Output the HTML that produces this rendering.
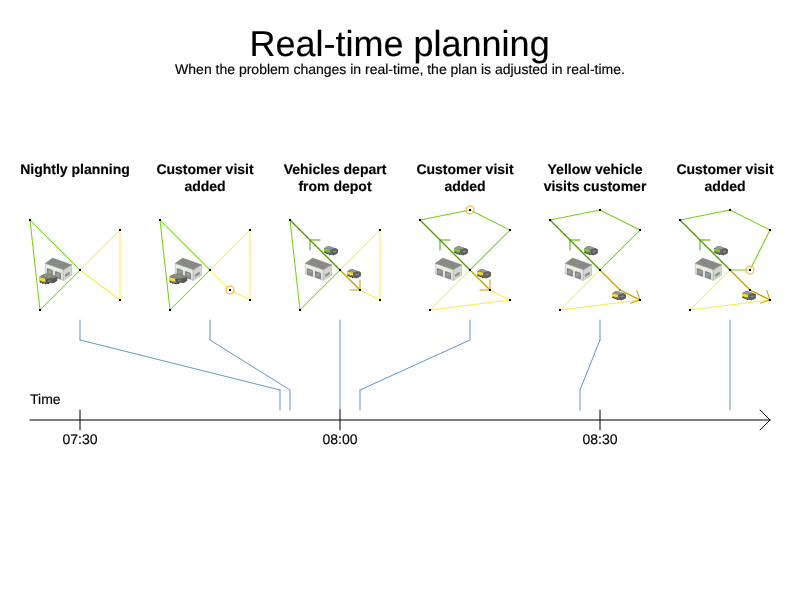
<!DOCTYPE html>
<html lang="en"><head><meta charset="utf-8"><title>Real-time planning</title>
<style>
html,body{margin:0;padding:0;background:#fff;}
body{width:800px;height:600px;overflow:hidden;}
svg{display:block;}
text{font-family:"Liberation Sans",Arial,Helvetica,sans-serif;fill:#000;text-rendering:geometricPrecision;stroke:#000;stroke-width:0.15px;stroke-linejoin:round;}
.t{font-size:36px;text-anchor:middle;}
.s{font-size:14px;text-anchor:middle;}
.h{font-size:14px;font-weight:bold;text-anchor:middle;}
.a{font-size:14px;}
.am{font-size:14px;text-anchor:middle;}
line{fill:none;stroke-linecap:round;}
</style></head><body>
<svg width="800" height="600" viewBox="0 0 800 600">
<defs>
<linearGradient id="gw" x1="0" y1="0" x2="0" y2="1"><stop offset="0" stop-color="#f1f2ef"/><stop offset="1" stop-color="#dcdfd9"/></linearGradient>
<linearGradient id="gd" x1="0" y1="0" x2="0.3" y2="1"><stop offset="0" stop-color="#7c7e7a"/><stop offset="0.45" stop-color="#a0a29d"/><stop offset="1" stop-color="#868884"/></linearGradient>
</defs>
<rect width="800" height="600" fill="#fff"/>
<text class="t" x="399.6" y="56">Real-time planning</text>
<text class="s" x="400" y="74">When the problem changes in real-time, the plan is adjusted in real-time.</text>

<text class="h" x="75" y="174">Nightly planning</text>
<text class="h" x="205" y="174">Customer visit</text>
<text class="h" x="205" y="191">added</text>
<text class="h" x="335" y="174">Vehicles depart</text>
<text class="h" x="335" y="191">from depot</text>
<text class="h" x="465" y="174">Customer visit</text>
<text class="h" x="465" y="191">added</text>
<text class="h" x="595" y="174">Yellow vehicle</text>
<text class="h" x="595" y="191">visits customer</text>
<text class="h" x="725" y="174">Customer visit</text>
<text class="h" x="725" y="191">added</text>
<g>
<line x1="80" y1="270" x2="30" y2="220" stroke="#73d216" stroke-width="1.05" />
<line x1="30" y1="220" x2="40" y2="310" stroke="#73d216" stroke-width="1.05" />
<line x1="40" y1="310" x2="80" y2="270" stroke="#73d216" stroke-width="1.05" />
<line x1="80" y1="270" x2="120" y2="230" stroke="#fce94f" stroke-width="1.05" />
<line x1="120" y1="230" x2="120" y2="300" stroke="#fce94f" stroke-width="1" />
<line x1="120" y1="300" x2="80" y2="270" stroke="#fce94f" stroke-width="1.05" />
<g transform="translate(0,0)">
<polygon points="45.3,263.3 63.3,269.6 63.3,280.4 45.3,273.9" fill="url(#gw)" stroke="#a4a7a0" stroke-width="0.5"/>
<polygon points="63.3,269.6 71.6,264.8 71.6,275.2 63.3,280.4" fill="#d4d7d0" stroke="#a4a7a0" stroke-width="0.5"/>
<polygon points="45.3,263.3 52.6,258.1 71.6,264.8 63.3,269.6" fill="#888a85" stroke="#888a85" stroke-width="0.5"/>
<polygon points="47.3,268.6 52.4,270.4 52.4,276 47.3,274.2" fill="url(#gd)" stroke="#686a66" stroke-width="0.7"/>
<polygon points="55.5,271.5 60.5,273.3 60.5,278.8 55.5,277" fill="url(#gd)" stroke="#686a66" stroke-width="0.7"/>
<polygon points="65.3,274.6 69.5,272.1 69.5,274.3 65.3,276.8" fill="#8e908b" stroke="#7b7d79" stroke-width="0.4"/>
</g>
<g transform="translate(0,0)">
<polygon points="39.4,276.6 43.6,274.2 47.6,273.6 53,275 57.2,277 57.2,280.8 53.4,283 50,282.6 46.6,284.2 42.6,283.6 39.4,281.8" fill="#6f716d"/>
<polygon points="39.4,276.6 43.6,274.2 47.6,273.6 53,275 57,277 51,278.6 45.6,278.8" fill="#858783"/>
<polygon points="46,279 51.4,278.4 57.2,277.4 57.2,280.8 53.4,283 50,282.6 46.6,284.2 46,283.6" fill="#575955"/>
<polygon points="48,280 51.6,279.4 51.6,281 48,281.8" fill="#787a76"/>
<polygon points="39.2,277 45,278.7 45.4,282.2 43.4,281.2 42.2,281.8 41,280.8 39.2,280.4" fill="#f2de3a"/>
<circle cx="45.8" cy="275.3" r="0.8" fill="#73d216"/><circle cx="49.3" cy="276.4" r="0.8" fill="#73d216"/>
<circle cx="40.6" cy="282" r="0.7" fill="#2e3436"/><circle cx="42.6" cy="282.9" r="0.7" fill="#2e3436"/><circle cx="45.4" cy="283.6" r="0.7" fill="#2e3436"/><circle cx="48.6" cy="283.4" r="0.7" fill="#2e3436"/>
</g>
<rect x="29" y="219" width="2" height="2" fill="#000"/>
<rect x="119" y="229" width="2" height="2" fill="#000"/>
<rect x="79" y="269" width="2" height="2" fill="#000"/>
<rect x="119" y="299" width="2" height="2" fill="#000"/>
<rect x="39" y="309" width="2" height="2" fill="#000"/>
</g>
<g>
<line x1="210" y1="270" x2="160" y2="220" stroke="#73d216" stroke-width="1.05" />
<line x1="160" y1="220" x2="170" y2="310" stroke="#73d216" stroke-width="1.05" />
<line x1="170" y1="310" x2="210" y2="270" stroke="#73d216" stroke-width="1.05" />
<line x1="210" y1="270" x2="250" y2="230" stroke="#fce94f" stroke-width="1.05" />
<line x1="250" y1="230" x2="250" y2="300" stroke="#fce94f" stroke-width="1" />
<line x1="250" y1="300" x2="230" y2="290" stroke="#fce94f" stroke-width="1.05" />
<line x1="230" y1="290" x2="210" y2="270" stroke="#fce94f" stroke-width="1.05" />
<g transform="translate(130,0)">
<polygon points="45.3,263.3 63.3,269.6 63.3,280.4 45.3,273.9" fill="url(#gw)" stroke="#a4a7a0" stroke-width="0.5"/>
<polygon points="63.3,269.6 71.6,264.8 71.6,275.2 63.3,280.4" fill="#d4d7d0" stroke="#a4a7a0" stroke-width="0.5"/>
<polygon points="45.3,263.3 52.6,258.1 71.6,264.8 63.3,269.6" fill="#888a85" stroke="#888a85" stroke-width="0.5"/>
<polygon points="47.3,268.6 52.4,270.4 52.4,276 47.3,274.2" fill="url(#gd)" stroke="#686a66" stroke-width="0.7"/>
<polygon points="55.5,271.5 60.5,273.3 60.5,278.8 55.5,277" fill="url(#gd)" stroke="#686a66" stroke-width="0.7"/>
<polygon points="65.3,274.6 69.5,272.1 69.5,274.3 65.3,276.8" fill="#8e908b" stroke="#7b7d79" stroke-width="0.4"/>
</g>
<g transform="translate(130,0)">
<polygon points="39.4,276.6 43.6,274.2 47.6,273.6 53,275 57.2,277 57.2,280.8 53.4,283 50,282.6 46.6,284.2 42.6,283.6 39.4,281.8" fill="#6f716d"/>
<polygon points="39.4,276.6 43.6,274.2 47.6,273.6 53,275 57,277 51,278.6 45.6,278.8" fill="#858783"/>
<polygon points="46,279 51.4,278.4 57.2,277.4 57.2,280.8 53.4,283 50,282.6 46.6,284.2 46,283.6" fill="#575955"/>
<polygon points="48,280 51.6,279.4 51.6,281 48,281.8" fill="#787a76"/>
<polygon points="39.2,277 45,278.7 45.4,282.2 43.4,281.2 42.2,281.8 41,280.8 39.2,280.4" fill="#f2de3a"/>
<circle cx="45.8" cy="275.3" r="0.8" fill="#73d216"/><circle cx="49.3" cy="276.4" r="0.8" fill="#73d216"/>
<circle cx="40.6" cy="282" r="0.7" fill="#2e3436"/><circle cx="42.6" cy="282.9" r="0.7" fill="#2e3436"/><circle cx="45.4" cy="283.6" r="0.7" fill="#2e3436"/><circle cx="48.6" cy="283.4" r="0.7" fill="#2e3436"/>
</g>
<rect x="159" y="219" width="2" height="2" fill="#000"/>
<rect x="249" y="229" width="2" height="2" fill="#000"/>
<rect x="209" y="269" width="2" height="2" fill="#000"/>
<rect x="249" y="299" width="2" height="2" fill="#000"/>
<rect x="169" y="309" width="2" height="2" fill="#000"/>
<rect x="229" y="289" width="2" height="2" fill="#000"/>
<circle cx="230" cy="290" r="4" stroke="#fcaf3e" stroke-width="1.2" fill="#fff" fill-opacity="0.4"/><rect x="229" y="289" width="2" height="2" fill="#000"/>
</g>
<g>
<line x1="340" y1="270" x2="290" y2="220" stroke="#73d216" stroke-width="1.05" />
<line x1="290" y1="220" x2="300" y2="310" stroke="#73d216" stroke-width="1.05" />
<line x1="300" y1="310" x2="340" y2="270" stroke="#73d216" stroke-width="1.05" />
<line x1="340" y1="270" x2="380" y2="230" stroke="#fce94f" stroke-width="1.05" />
<line x1="380" y1="230" x2="380" y2="300" stroke="#fce94f" stroke-width="1" />
<line x1="380" y1="300" x2="360" y2="290" stroke="#fce94f" stroke-width="1.05" />
<line x1="360" y1="290" x2="340" y2="270" stroke="#fce94f" stroke-width="1.05" />
<line x1="340" y1="270" x2="290" y2="220" stroke="#4e9a06" stroke-width="1.18" />
<line x1="340" y1="270" x2="360" y2="290" stroke="#c4a000" stroke-width="1.18" />
<line x1="320" y1="240" x2="310" y2="240" stroke="#4e9a06" stroke-width="1" />
<line x1="310" y1="240" x2="310" y2="250" stroke="#4e9a06" stroke-width="1" />
<line x1="350" y1="290" x2="360" y2="290" stroke="#c4a000" stroke-width="1" />
<line x1="360" y1="290" x2="360" y2="280" stroke="#c4a000" stroke-width="1" />
<g transform="translate(260,0)">
<polygon points="45.3,263.3 63.3,269.6 63.3,280.4 45.3,273.9" fill="url(#gw)" stroke="#a4a7a0" stroke-width="0.5"/>
<polygon points="63.3,269.6 71.6,264.8 71.6,275.2 63.3,280.4" fill="#d4d7d0" stroke="#a4a7a0" stroke-width="0.5"/>
<polygon points="45.3,263.3 52.6,258.1 71.6,264.8 63.3,269.6" fill="#888a85" stroke="#888a85" stroke-width="0.5"/>
<polygon points="47.3,268.6 52.4,270.4 52.4,276 47.3,274.2" fill="url(#gd)" stroke="#686a66" stroke-width="0.7"/>
<polygon points="55.5,271.5 60.5,273.3 60.5,278.8 55.5,277" fill="url(#gd)" stroke="#686a66" stroke-width="0.7"/>
<polygon points="65.3,274.6 69.5,272.1 69.5,274.3 65.3,276.8" fill="#8e908b" stroke="#7b7d79" stroke-width="0.4"/>
</g>
<g transform="translate(324,246)">
<polygon points="0.2,2.2 3,0.6 5.4,0.1 9,1.4 12,2.2 13.8,3.4 13.8,7 11.5,8.6 8,9 5,8.6 2,7.6 0.2,6.4" fill="#60625e" fill-opacity="0.92"/>
<polygon points="0.2,2.2 3,0.6 5.4,0.1 9,1.4 11,2.2 7.4,3.5" fill="#949691"/>
<polygon points="0.1,2.4 5.9,3.6 5.9,6.6 4.6,6 3.4,6.5 2.2,5.6 0.1,5.2" fill="#73d216"/>
<polygon points="7.4,3.5 11,2.3 13.8,3.4 13.8,7 11.5,8.6 8,8.8 7,8" fill="#5e605c"/>
<polygon points="8.6,4.8 12,4.4 12,6 8.6,6.6" fill="#858782"/>
<circle cx="1.2" cy="6.6" r="0.7" fill="#2e3436"/><circle cx="3.2" cy="7.6" r="0.7" fill="#2e3436"/><circle cx="5.6" cy="8.4" r="0.7" fill="#2e3436"/><circle cx="9.2" cy="8.8" r="0.6" fill="#2e3436"/>
</g>
<g transform="translate(347,269)">
<polygon points="0.2,2.2 3,0.6 5.4,0.1 9,1.4 12,2.2 13.8,3.4 13.8,7 11.5,8.6 8,9 5,8.6 2,7.6 0.2,6.4" fill="#60625e" fill-opacity="0.92"/>
<polygon points="0.2,2.2 3,0.6 5.4,0.1 9,1.4 11,2.2 7.4,3.5" fill="#949691"/>
<polygon points="0.1,2.4 5.9,3.6 5.9,6.6 4.6,6 3.4,6.5 2.2,5.6 0.1,5.2" fill="#f2de3a"/>
<polygon points="7.4,3.5 11,2.3 13.8,3.4 13.8,7 11.5,8.6 8,8.8 7,8" fill="#5e605c"/>
<polygon points="8.6,4.8 12,4.4 12,6 8.6,6.6" fill="#858782"/>
<circle cx="1.2" cy="6.6" r="0.7" fill="#2e3436"/><circle cx="3.2" cy="7.6" r="0.7" fill="#2e3436"/><circle cx="5.6" cy="8.4" r="0.7" fill="#2e3436"/><circle cx="9.2" cy="8.8" r="0.6" fill="#2e3436"/>
</g>
<rect x="289" y="219" width="2" height="2" fill="#000"/>
<rect x="379" y="229" width="2" height="2" fill="#000"/>
<rect x="339" y="269" width="2" height="2" fill="#000"/>
<rect x="379" y="299" width="2" height="2" fill="#000"/>
<rect x="299" y="309" width="2" height="2" fill="#000"/>
<rect x="359" y="289" width="2" height="2" fill="#000"/>
</g>
<g>
<line x1="470" y1="270" x2="420" y2="220" stroke="#73d216" stroke-width="1.05" />
<line x1="420" y1="220" x2="470" y2="210" stroke="#73d216" stroke-width="1.05" />
<line x1="470" y1="210" x2="510" y2="230" stroke="#73d216" stroke-width="1.05" />
<line x1="510" y1="230" x2="470" y2="270" stroke="#73d216" stroke-width="1.05" />
<line x1="470" y1="270" x2="490" y2="290" stroke="#fce94f" stroke-width="1.05" />
<line x1="490" y1="290" x2="510" y2="300" stroke="#fce94f" stroke-width="1.05" />
<line x1="510" y1="300" x2="430" y2="310" stroke="#fce94f" stroke-width="1.05" />
<line x1="430" y1="310" x2="470" y2="270" stroke="#fce94f" stroke-width="1.05" />
<line x1="470" y1="270" x2="420" y2="220" stroke="#4e9a06" stroke-width="1.18" />
<line x1="470" y1="270" x2="490" y2="290" stroke="#c4a000" stroke-width="1.18" />
<line x1="450" y1="240" x2="440" y2="240" stroke="#4e9a06" stroke-width="1" />
<line x1="440" y1="240" x2="440" y2="250" stroke="#4e9a06" stroke-width="1" />
<line x1="480" y1="290" x2="490" y2="290" stroke="#c4a000" stroke-width="1" />
<line x1="490" y1="290" x2="490" y2="280" stroke="#c4a000" stroke-width="1" />
<g transform="translate(390,0)">
<polygon points="45.3,263.3 63.3,269.6 63.3,280.4 45.3,273.9" fill="url(#gw)" stroke="#a4a7a0" stroke-width="0.5"/>
<polygon points="63.3,269.6 71.6,264.8 71.6,275.2 63.3,280.4" fill="#d4d7d0" stroke="#a4a7a0" stroke-width="0.5"/>
<polygon points="45.3,263.3 52.6,258.1 71.6,264.8 63.3,269.6" fill="#888a85" stroke="#888a85" stroke-width="0.5"/>
<polygon points="47.3,268.6 52.4,270.4 52.4,276 47.3,274.2" fill="url(#gd)" stroke="#686a66" stroke-width="0.7"/>
<polygon points="55.5,271.5 60.5,273.3 60.5,278.8 55.5,277" fill="url(#gd)" stroke="#686a66" stroke-width="0.7"/>
<polygon points="65.3,274.6 69.5,272.1 69.5,274.3 65.3,276.8" fill="#8e908b" stroke="#7b7d79" stroke-width="0.4"/>
</g>
<g transform="translate(454,246)">
<polygon points="0.2,2.2 3,0.6 5.4,0.1 9,1.4 12,2.2 13.8,3.4 13.8,7 11.5,8.6 8,9 5,8.6 2,7.6 0.2,6.4" fill="#60625e" fill-opacity="0.92"/>
<polygon points="0.2,2.2 3,0.6 5.4,0.1 9,1.4 11,2.2 7.4,3.5" fill="#949691"/>
<polygon points="0.1,2.4 5.9,3.6 5.9,6.6 4.6,6 3.4,6.5 2.2,5.6 0.1,5.2" fill="#73d216"/>
<polygon points="7.4,3.5 11,2.3 13.8,3.4 13.8,7 11.5,8.6 8,8.8 7,8" fill="#5e605c"/>
<polygon points="8.6,4.8 12,4.4 12,6 8.6,6.6" fill="#858782"/>
<circle cx="1.2" cy="6.6" r="0.7" fill="#2e3436"/><circle cx="3.2" cy="7.6" r="0.7" fill="#2e3436"/><circle cx="5.6" cy="8.4" r="0.7" fill="#2e3436"/><circle cx="9.2" cy="8.8" r="0.6" fill="#2e3436"/>
</g>
<g transform="translate(477,269)">
<polygon points="0.2,2.2 3,0.6 5.4,0.1 9,1.4 12,2.2 13.8,3.4 13.8,7 11.5,8.6 8,9 5,8.6 2,7.6 0.2,6.4" fill="#60625e" fill-opacity="0.92"/>
<polygon points="0.2,2.2 3,0.6 5.4,0.1 9,1.4 11,2.2 7.4,3.5" fill="#949691"/>
<polygon points="0.1,2.4 5.9,3.6 5.9,6.6 4.6,6 3.4,6.5 2.2,5.6 0.1,5.2" fill="#f2de3a"/>
<polygon points="7.4,3.5 11,2.3 13.8,3.4 13.8,7 11.5,8.6 8,8.8 7,8" fill="#5e605c"/>
<polygon points="8.6,4.8 12,4.4 12,6 8.6,6.6" fill="#858782"/>
<circle cx="1.2" cy="6.6" r="0.7" fill="#2e3436"/><circle cx="3.2" cy="7.6" r="0.7" fill="#2e3436"/><circle cx="5.6" cy="8.4" r="0.7" fill="#2e3436"/><circle cx="9.2" cy="8.8" r="0.6" fill="#2e3436"/>
</g>
<rect x="419" y="219" width="2" height="2" fill="#000"/>
<rect x="469" y="209" width="2" height="2" fill="#000"/>
<rect x="509" y="229" width="2" height="2" fill="#000"/>
<rect x="469" y="269" width="2" height="2" fill="#000"/>
<rect x="509" y="299" width="2" height="2" fill="#000"/>
<rect x="429" y="309" width="2" height="2" fill="#000"/>
<rect x="489" y="289" width="2" height="2" fill="#000"/>
<circle cx="470" cy="210" r="4" stroke="#fcaf3e" stroke-width="1.2" fill="#fff" fill-opacity="0.4"/><rect x="469" y="209" width="2" height="2" fill="#000"/>
</g>
<g>
<line x1="600" y1="270" x2="550" y2="220" stroke="#73d216" stroke-width="1.05" />
<line x1="550" y1="220" x2="600" y2="210" stroke="#73d216" stroke-width="1.05" />
<line x1="600" y1="210" x2="640" y2="230" stroke="#73d216" stroke-width="1.05" />
<line x1="640" y1="230" x2="600" y2="270" stroke="#73d216" stroke-width="1.05" />
<line x1="600" y1="270" x2="620" y2="290" stroke="#fce94f" stroke-width="1.05" />
<line x1="620" y1="290" x2="640" y2="300" stroke="#fce94f" stroke-width="1.05" />
<line x1="640" y1="300" x2="560" y2="310" stroke="#fce94f" stroke-width="1.05" />
<line x1="560" y1="310" x2="600" y2="270" stroke="#fce94f" stroke-width="1.05" />
<line x1="600" y1="270" x2="550" y2="220" stroke="#4e9a06" stroke-width="1.18" />
<line x1="600" y1="270" x2="620" y2="290" stroke="#c4a000" stroke-width="1.18" />
<line x1="620" y1="290" x2="640" y2="300" stroke="#c4a000" stroke-width="1.18" />
<line x1="580" y1="240" x2="570" y2="240" stroke="#4e9a06" stroke-width="1" />
<line x1="570" y1="240" x2="570" y2="250" stroke="#4e9a06" stroke-width="1" />
<line x1="636.84" y1="290.5" x2="640" y2="300" stroke="#c4a000" stroke-width="1" />
<line x1="640" y1="300" x2="630.5" y2="303.16" stroke="#c4a000" stroke-width="1" />
<g transform="translate(520,0)">
<polygon points="45.3,263.3 63.3,269.6 63.3,280.4 45.3,273.9" fill="url(#gw)" stroke="#a4a7a0" stroke-width="0.5"/>
<polygon points="63.3,269.6 71.6,264.8 71.6,275.2 63.3,280.4" fill="#d4d7d0" stroke="#a4a7a0" stroke-width="0.5"/>
<polygon points="45.3,263.3 52.6,258.1 71.6,264.8 63.3,269.6" fill="#888a85" stroke="#888a85" stroke-width="0.5"/>
<polygon points="47.3,268.6 52.4,270.4 52.4,276 47.3,274.2" fill="url(#gd)" stroke="#686a66" stroke-width="0.7"/>
<polygon points="55.5,271.5 60.5,273.3 60.5,278.8 55.5,277" fill="url(#gd)" stroke="#686a66" stroke-width="0.7"/>
<polygon points="65.3,274.6 69.5,272.1 69.5,274.3 65.3,276.8" fill="#8e908b" stroke="#7b7d79" stroke-width="0.4"/>
</g>
<rect x="619" y="289" width="2" height="2" fill="#888"/>
<g transform="translate(584,246)">
<polygon points="0.2,2.2 3,0.6 5.4,0.1 9,1.4 12,2.2 13.8,3.4 13.8,7 11.5,8.6 8,9 5,8.6 2,7.6 0.2,6.4" fill="#60625e" fill-opacity="0.92"/>
<polygon points="0.2,2.2 3,0.6 5.4,0.1 9,1.4 11,2.2 7.4,3.5" fill="#949691"/>
<polygon points="0.1,2.4 5.9,3.6 5.9,6.6 4.6,6 3.4,6.5 2.2,5.6 0.1,5.2" fill="#73d216"/>
<polygon points="7.4,3.5 11,2.3 13.8,3.4 13.8,7 11.5,8.6 8,8.8 7,8" fill="#5e605c"/>
<polygon points="8.6,4.8 12,4.4 12,6 8.6,6.6" fill="#858782"/>
<circle cx="1.2" cy="6.6" r="0.7" fill="#2e3436"/><circle cx="3.2" cy="7.6" r="0.7" fill="#2e3436"/><circle cx="5.6" cy="8.4" r="0.7" fill="#2e3436"/><circle cx="9.2" cy="8.8" r="0.6" fill="#2e3436"/>
</g>
<g transform="translate(612,291)">
<polygon points="0.2,2.2 3,0.6 5.4,0.1 9,1.4 12,2.2 13.8,3.4 13.8,7 11.5,8.6 8,9 5,8.6 2,7.6 0.2,6.4" fill="#60625e" fill-opacity="0.92"/>
<polygon points="0.2,2.2 3,0.6 5.4,0.1 9,1.4 11,2.2 7.4,3.5" fill="#949691"/>
<polygon points="0.1,2.4 5.9,3.6 5.9,6.6 4.6,6 3.4,6.5 2.2,5.6 0.1,5.2" fill="#f2de3a"/>
<polygon points="7.4,3.5 11,2.3 13.8,3.4 13.8,7 11.5,8.6 8,8.8 7,8" fill="#5e605c"/>
<polygon points="8.6,4.8 12,4.4 12,6 8.6,6.6" fill="#858782"/>
<circle cx="1.2" cy="6.6" r="0.7" fill="#2e3436"/><circle cx="3.2" cy="7.6" r="0.7" fill="#2e3436"/><circle cx="5.6" cy="8.4" r="0.7" fill="#2e3436"/><circle cx="9.2" cy="8.8" r="0.6" fill="#2e3436"/>
</g>
<rect x="549" y="219" width="2" height="2" fill="#000"/>
<rect x="599" y="209" width="2" height="2" fill="#000"/>
<rect x="639" y="229" width="2" height="2" fill="#000"/>
<rect x="599" y="269" width="2" height="2" fill="#000"/>
<rect x="639" y="299" width="2" height="2" fill="#000"/>
<rect x="559" y="309" width="2" height="2" fill="#000"/>
</g>
<g>
<line x1="730" y1="270" x2="680" y2="220" stroke="#73d216" stroke-width="1.05" />
<line x1="680" y1="220" x2="730" y2="210" stroke="#73d216" stroke-width="1.05" />
<line x1="730" y1="210" x2="770" y2="230" stroke="#73d216" stroke-width="1.05" />
<line x1="770" y1="230" x2="750" y2="270" stroke="#73d216" stroke-width="1.05" />
<line x1="750" y1="270" x2="730" y2="270" stroke="#73d216" stroke-width="1" />
<line x1="730" y1="270" x2="750" y2="290" stroke="#fce94f" stroke-width="1.05" />
<line x1="750" y1="290" x2="770" y2="300" stroke="#fce94f" stroke-width="1.05" />
<line x1="770" y1="300" x2="690" y2="310" stroke="#fce94f" stroke-width="1.05" />
<line x1="690" y1="310" x2="730" y2="270" stroke="#fce94f" stroke-width="1.05" />
<line x1="730" y1="270" x2="680" y2="220" stroke="#4e9a06" stroke-width="1.18" />
<line x1="730" y1="270" x2="750" y2="290" stroke="#c4a000" stroke-width="1.18" />
<line x1="750" y1="290" x2="770" y2="300" stroke="#c4a000" stroke-width="1.18" />
<line x1="710" y1="240" x2="700" y2="240" stroke="#4e9a06" stroke-width="1" />
<line x1="700" y1="240" x2="700" y2="250" stroke="#4e9a06" stroke-width="1" />
<line x1="766.84" y1="290.5" x2="770" y2="300" stroke="#c4a000" stroke-width="1" />
<line x1="770" y1="300" x2="760.5" y2="303.16" stroke="#c4a000" stroke-width="1" />
<g transform="translate(650,0)">
<polygon points="45.3,263.3 63.3,269.6 63.3,280.4 45.3,273.9" fill="url(#gw)" stroke="#a4a7a0" stroke-width="0.5"/>
<polygon points="63.3,269.6 71.6,264.8 71.6,275.2 63.3,280.4" fill="#d4d7d0" stroke="#a4a7a0" stroke-width="0.5"/>
<polygon points="45.3,263.3 52.6,258.1 71.6,264.8 63.3,269.6" fill="#888a85" stroke="#888a85" stroke-width="0.5"/>
<polygon points="47.3,268.6 52.4,270.4 52.4,276 47.3,274.2" fill="url(#gd)" stroke="#686a66" stroke-width="0.7"/>
<polygon points="55.5,271.5 60.5,273.3 60.5,278.8 55.5,277" fill="url(#gd)" stroke="#686a66" stroke-width="0.7"/>
<polygon points="65.3,274.6 69.5,272.1 69.5,274.3 65.3,276.8" fill="#8e908b" stroke="#7b7d79" stroke-width="0.4"/>
</g>
<g transform="translate(714,246)">
<polygon points="0.2,2.2 3,0.6 5.4,0.1 9,1.4 12,2.2 13.8,3.4 13.8,7 11.5,8.6 8,9 5,8.6 2,7.6 0.2,6.4" fill="#60625e" fill-opacity="0.92"/>
<polygon points="0.2,2.2 3,0.6 5.4,0.1 9,1.4 11,2.2 7.4,3.5" fill="#949691"/>
<polygon points="0.1,2.4 5.9,3.6 5.9,6.6 4.6,6 3.4,6.5 2.2,5.6 0.1,5.2" fill="#73d216"/>
<polygon points="7.4,3.5 11,2.3 13.8,3.4 13.8,7 11.5,8.6 8,8.8 7,8" fill="#5e605c"/>
<polygon points="8.6,4.8 12,4.4 12,6 8.6,6.6" fill="#858782"/>
<circle cx="1.2" cy="6.6" r="0.7" fill="#2e3436"/><circle cx="3.2" cy="7.6" r="0.7" fill="#2e3436"/><circle cx="5.6" cy="8.4" r="0.7" fill="#2e3436"/><circle cx="9.2" cy="8.8" r="0.6" fill="#2e3436"/>
</g>
<g transform="translate(742,291)">
<polygon points="0.2,2.2 3,0.6 5.4,0.1 9,1.4 12,2.2 13.8,3.4 13.8,7 11.5,8.6 8,9 5,8.6 2,7.6 0.2,6.4" fill="#60625e" fill-opacity="0.92"/>
<polygon points="0.2,2.2 3,0.6 5.4,0.1 9,1.4 11,2.2 7.4,3.5" fill="#949691"/>
<polygon points="0.1,2.4 5.9,3.6 5.9,6.6 4.6,6 3.4,6.5 2.2,5.6 0.1,5.2" fill="#f2de3a"/>
<polygon points="7.4,3.5 11,2.3 13.8,3.4 13.8,7 11.5,8.6 8,8.8 7,8" fill="#5e605c"/>
<polygon points="8.6,4.8 12,4.4 12,6 8.6,6.6" fill="#858782"/>
<circle cx="1.2" cy="6.6" r="0.7" fill="#2e3436"/><circle cx="3.2" cy="7.6" r="0.7" fill="#2e3436"/><circle cx="5.6" cy="8.4" r="0.7" fill="#2e3436"/><circle cx="9.2" cy="8.8" r="0.6" fill="#2e3436"/>
</g>
<rect x="679" y="219" width="2" height="2" fill="#000"/>
<rect x="729" y="209" width="2" height="2" fill="#000"/>
<rect x="769" y="229" width="2" height="2" fill="#000"/>
<rect x="729" y="269" width="2" height="2" fill="#000"/>
<rect x="769" y="299" width="2" height="2" fill="#000"/>
<rect x="689" y="309" width="2" height="2" fill="#000"/>
<rect x="749" y="269" width="2" height="2" fill="#000"/>
<rect x="749" y="289" width="2" height="2" fill="#000"/>
<circle cx="750" cy="270" r="4" stroke="#fcaf3e" stroke-width="1.2" fill="#fff" fill-opacity="0.4"/><rect x="749" y="269" width="2" height="2" fill="#000"/>
</g>
<g>
<line x1="80" y1="320" x2="80" y2="340" stroke="#6195cb" stroke-width="1" />
<line x1="80" y1="340" x2="280" y2="390" stroke="#6195cb" stroke-width="1" />
<line x1="280" y1="390" x2="280" y2="410" stroke="#6195cb" stroke-width="1" />
<line x1="210" y1="320" x2="210" y2="340" stroke="#6195cb" stroke-width="1" />
<line x1="210" y1="340" x2="290" y2="390" stroke="#6195cb" stroke-width="1" />
<line x1="290" y1="390" x2="290" y2="410" stroke="#6195cb" stroke-width="1" />
<line x1="340" y1="320" x2="340" y2="410" stroke="#6195cb" stroke-width="1" />
<line x1="470" y1="320" x2="470" y2="340" stroke="#6195cb" stroke-width="1" />
<line x1="470" y1="340" x2="360" y2="390" stroke="#6195cb" stroke-width="1" />
<line x1="360" y1="390" x2="360" y2="410" stroke="#6195cb" stroke-width="1" />
<line x1="600" y1="320" x2="600" y2="340" stroke="#6195cb" stroke-width="1" />
<line x1="600" y1="340" x2="580" y2="390" stroke="#6195cb" stroke-width="1" />
<line x1="580" y1="390" x2="580" y2="410" stroke="#6195cb" stroke-width="1" />
<line x1="730" y1="320" x2="730" y2="410" stroke="#6195cb" stroke-width="1" />
</g>
<g>
<line x1="30" y1="420" x2="770" y2="420" stroke="#000" stroke-width="1" />
<line x1="760" y1="410" x2="770" y2="420" stroke="#000" stroke-width="1" />
<line x1="770" y1="420" x2="760" y2="430" stroke="#000" stroke-width="1" />
<line x1="80" y1="410" x2="80" y2="430" stroke="#000" stroke-width="1" />
<text class="am" x="80" y="444">07:30</text>
<line x1="340" y1="410" x2="340" y2="430" stroke="#000" stroke-width="1" />
<text class="am" x="340" y="444">08:00</text>
<line x1="600" y1="410" x2="600" y2="430" stroke="#000" stroke-width="1" />
<text class="am" x="600" y="444">08:30</text>
<text class="a" x="30" y="404">Time</text>
</g>
</svg>
</body></html>
